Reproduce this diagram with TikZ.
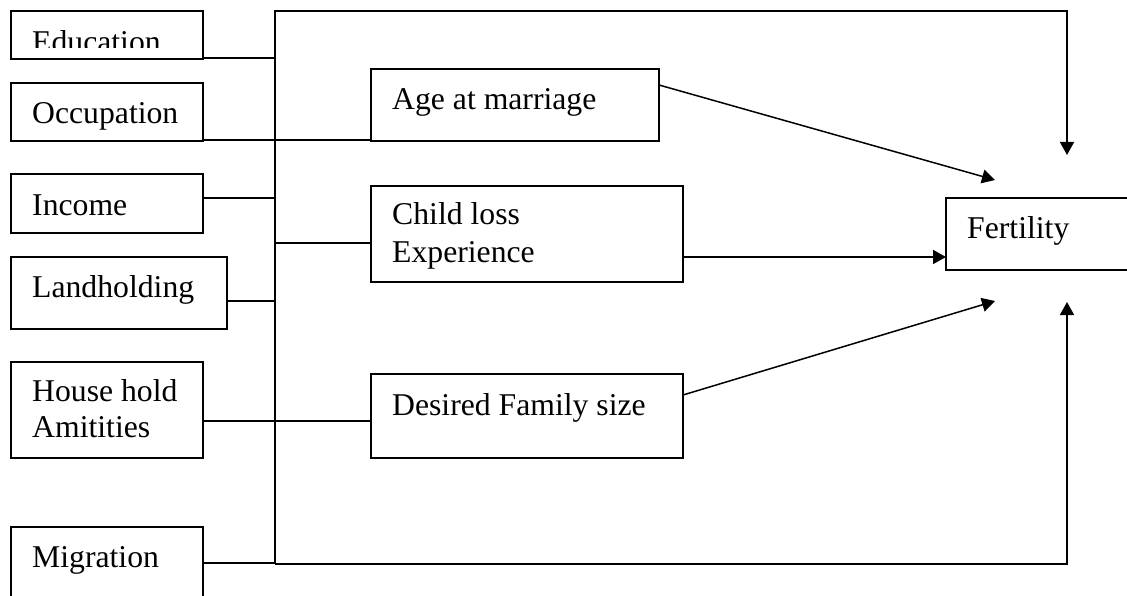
\documentclass[tikz,border=0pt]{standalone}
\usepackage{fontspec}
\setmainfont{Liberation Serif}
\usetikzlibrary{arrows.meta,fit}
\begin{document}
\begin{tikzpicture}[x=1pt,y=-1pt,
  box/.style={draw,line width=1.5pt,inner sep=0pt,outer sep=0pt},
  txt/.style={anchor=base west,inner sep=0pt,font=\fontsize{31.7}{36}\selectfont},
  conn/.style={line width=1.5pt},
  arr/.style={line width=1.5pt,-{Triangle[length=13pt,width=14pt]}}]
\useasboundingbox (0,0) rectangle (1127,596);
\clip (0,0) rectangle (1127,596);
% boxes
\node[box,fit={(11,11) (203,59)}] (edu) {};
\node[box,fit={(11,83) (203,141)}] (occ) {};
\node[box,fit={(11,174) (203,233)}] (inc) {};
\node[box,fit={(11,257) (227,329)}] (land) {};
\node[box,fit={(11,362) (203,458)}] (hh) {};
\node[box,fit={(11,527) (203,620)}] (mig) {};
\node[box,fit={(371,69) (659,141)}] (age) {};
\node[box,fit={(371,186) (683,282)}] (child) {};
\node[box,fit={(371,374) (683,458)}] (des) {};
\node[box,fit={(946,198) (1140,270)}] (fert) {};
% texts
\begin{scope}
\clip (11,11) rectangle (203,48);
\node[txt] (edut) at (32,53) {Education};
\end{scope}
\node[txt] (occt) at (32,124) {Occupation};
\node[txt] (inct) at (32,215) {Income};
\node[txt] (landt) at (32,297) {Landholding};
\node[txt] (hht1) at (32,401) {House hold};
\node[txt] (hht2) at (32,437) {Amitities};
\node[txt] (migt) at (32,567) {Migration};
\node[txt] (aget) at (392,110) {Age at marriage};
\node[txt] (childt1) at (392,225) {Child loss};
\node[txt] (childt2) at (392,262) {Experience};
\node[txt] (dest) at (392,415) {Desired Family size};
\node[txt] (fertt) at (967,238) {Fertility};
% bus coordinates
\coordinate (bt) at (275,11);
\coordinate (bb) at (275,564);
\coordinate (ft) at (1067,155);
\coordinate (fb) at (1067,302);
\coordinate (fa) at (995,180);
\coordinate (fd) at (995,301);
% bus
\draw[arr,line join=miter] (bb) -- (bt) -| (ft);
\draw[arr,line join=miter] (bb) -| (fb);
% feeders
\draw[conn] (edu.east |- 0,58) -- (bt |- 0,58);
\draw[conn] (occ.east |- 0,140) -- (age.west |- 0,140);
\draw[conn] (inc.east |- 0,198) -- (bt |- 0,198);
\draw[conn] (land.east |- 0,301) -- (bt |- 0,301);
\draw[conn] (bt |- 0,243) -- (child.west |- 0,243);
\draw[conn] (hh.east |- 0,421) -- (des.west |- 0,421);
\draw[conn] (mig.east |- 0,563) -- (bt |- 0,563);
% arrows to fertility
\draw[arr] (age.east |- 0,85) -- (fa);
\draw[arr] (child.east |- 0,257) -- (fert.west |- 0,257);
\draw[arr] (des.east |- 0,395) -- (fd);
\end{tikzpicture}
\end{document}
